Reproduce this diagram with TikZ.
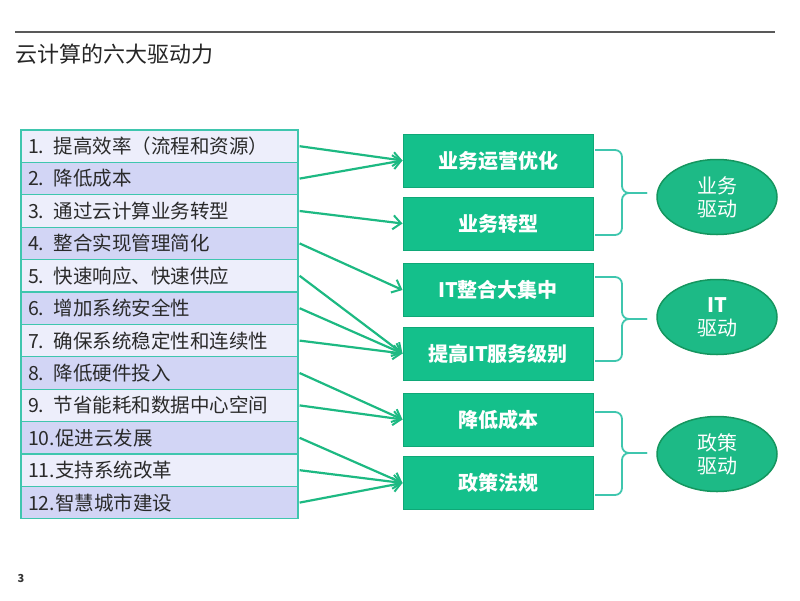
\documentclass[tikz,border=0pt]{standalone}
\usepackage{fontspec}
\setmainfont{Noto Sans CJK SC}
\usetikzlibrary{arrows.meta,shapes.geometric}
\definecolor{rowlight}{HTML}{EDEEFB}
\definecolor{rowdark}{HTML}{D2D5F5}
\definecolor{rowline}{HTML}{3FC6AE}
\definecolor{gfill}{HTML}{14C08B}
\definecolor{gline}{HTML}{0FA877}
\definecolor{efill}{HTML}{1DBA86}
\definecolor{eline}{HTML}{15965F}
\definecolor{arrowc}{HTML}{1DB982}
\definecolor{txt}{HTML}{2A2A2A}
\begin{document}
\begin{tikzpicture}[x=1pt,y=-1pt,
  rowbox/.style={draw=rowline,line width=1.2pt,minimum height=32.4pt,text width=263pt,inner xsep=7pt,inner ysep=0pt,align=left,font=\fontsize{19.5}{21}\selectfont,text=txt},
  gbox/.style={draw=gline,line width=1pt,fill=gfill,minimum width=190pt,minimum height=53pt,text=white,font=\fontsize{20}{22}\selectfont\bfseries},
  drv/.style={ellipse,draw=eline,line width=1.5pt,fill=efill,minimum width=120pt,minimum height=75pt,inner sep=0pt,text=white,align=center,font=\fontsize{20}{23}\selectfont},
  conn/.style={draw=arrowc,line width=2.2pt,-{Straight Barb[length=8pt,width=14pt,line width=2pt]}},
  brace/.style={draw=rowline,line width=1.8pt,rounded corners=7pt}
]
\useasboundingbox (0,0) rectangle (800,600);
\draw[line width=1.3pt,color=black!65] (15,32) -- (775,32);
\node[anchor=west,inner sep=0pt,font=\fontsize{22}{24}\selectfont,text=black!85] (title) at (15,54) {云计算的六大驱动力};
\node[anchor=center,inner sep=0pt,font=\fontsize{11}{12}\selectfont\bfseries,text=black!80] (pg) at (21,578) {3};

% rows
\node[rowbox,fill=rowlight] (r1) at (159.5,146.2) {1. 提高效率（流程和资源）};
\node[rowbox,fill=rowdark]  (r2) at (159.5,178.6) {2. 降低成本};
\node[rowbox,fill=rowlight] (r3) at (159.5,211.0) {3. 通过云计算业务转型};
\node[rowbox,fill=rowdark]  (r4) at (159.5,243.4) {4. 整合实现管理简化};
\node[rowbox,fill=rowlight] (r5) at (159.5,275.8) {5. 快速响应、快速供应};
\node[rowbox,fill=rowdark]  (r6) at (159.5,308.2) {6. 增加系统安全性};
\node[rowbox,fill=rowlight] (r7) at (159.5,340.6) {7. 确保系统稳定性和连续性};
\node[rowbox,fill=rowdark]  (r8) at (159.5,373.0) {8. 降低硬件投入};
\node[rowbox,fill=rowlight] (r9) at (159.5,405.4) {9. 节省能耗和数据中心空间};
\node[rowbox,fill=rowdark]  (r10) at (159.5,437.8) {10.促进云发展};
\node[rowbox,fill=rowlight] (r11) at (159.5,470.2) {11.支持系统改革};
\node[rowbox,fill=rowdark]  (r12) at (159.5,502.6) {12.智慧城市建设};

% green boxes
\node[gbox] (b1) at (498,160.5) {业务运营优化};
\node[gbox] (b2) at (498,223.5) {业务转型};
\node[gbox] (b3) at (498,290) {IT整合大集中};
\node[gbox] (b4) at (498,353.5) {提高IT服务级别};
\node[gbox] (b5) at (498,419.5) {降低成本};
\node[gbox] (b6) at (498,483) {政策法规};

% connectors
\foreach \r/\b in {r1/b1,r2/b1,r3/b2,r4/b3,r5/b4,r6/b4,r7/b4,r8/b5,r9/b5,r10/b6,r11/b6,r12/b6}
  \draw[conn] ([xshift=1pt]\r.east) -- (\b.west);

% drivers
\node[drv] (d1) at (717,197) {业务\\驱动};
\node[drv] (d2) at (717,317) {\textbf{IT}\\驱动};
\node[drv] (d3) at (717,454) {政策\\驱动};

% braces
\foreach \t/\m/\bt in {150/193/235,277/319/361,412/453/495}{
  \draw[brace] (595,\t) -- (622,\t) -- (622,\m) -- (647,\m);
  \draw[brace] (647,\m) -- (622,\m) -- (622,\bt) -- (595,\bt);
}
\end{tikzpicture}
\end{document}
